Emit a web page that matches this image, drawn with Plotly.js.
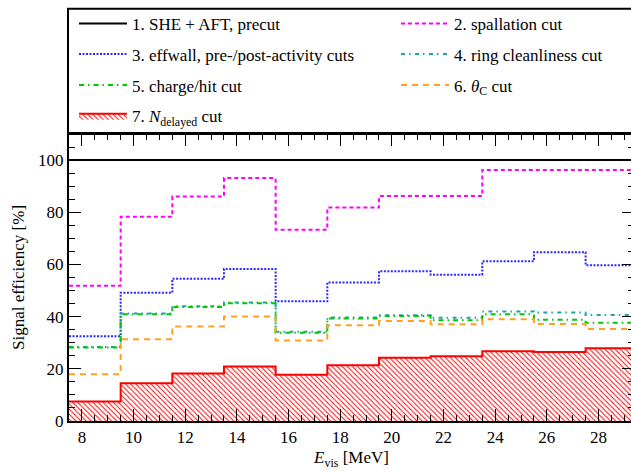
<!DOCTYPE html>
<html><head><meta charset="utf-8">
<script src="https://cdn.plot.ly/plotly-3.0.1.min.js"></script>
<style>
html,body{margin:0;padding:0;overflow:hidden;background:#fff}
#chart{width:640px;height:474px}
</style>
</head><body><div id="chart"></div><script>
// bin edges in E_vis [MeV]
const binEdges = [7.5, 9.5, 11.5, 13.5, 15.5, 17.5, 19.5, 21.5, 23.5, 25.5, 27.5, 29.5];
// signal efficiency [%] per bin, after each cumulative cut
const sheAft     = [100, 100, 100, 100, 100, 100, 100, 100, 100, 100, 100];
const spallation = [51.8, 78.3, 86.0, 93.1, 73.3, 81.8, 86.2, 86.2, 96.2, 96.2, 96.2];
const effwall    = [32.5, 49.2, 54.5, 58.3, 45.9, 53.1, 57.4, 56.1, 61.2, 64.7, 59.7];
const ringClean  = [28.4, 41.2, 44.0, 45.4, 34.2, 39.7, 40.5, 39.6, 42.0, 41.6, 40.6];
const chargeHit  = [28.2, 40.9, 43.7, 45.1, 33.8, 39.3, 40.2, 38.6, 40.9, 38.8, 37.7];
const thetaC     = [17.9, 31.3, 36.2, 40.1, 30.9, 36.7, 38.3, 37.1, 39.0, 37.2, 35.3];
const nDelayed   = [7.5, 14.5, 18.2, 20.9, 17.7, 21.4, 24.2, 24.8, 26.7, 26.4, 27.9];

const seriesNames = [
  '1. SHE + AFT, precut',
  '2. spallation cut',
  '3. effwall, pre-/post-activity cuts',
  '4. ring cleanliness cut',
  '5. charge/hit cut',
  '6. <i>θ</i><sub>C</sub> cut',
  '7. <i>N</i><sub>delayed</sub> cut'
];

const FONT = 'Liberation Serif, Times New Roman, serif';
const stepY = v => v.concat([v[v.length - 1]]);

function stepTrace(vals, name, color, dash, legendId) {
  return {
    type: 'scatter', mode: 'lines', x: binEdges, y: stepY(vals), name: name,
    line: {shape: 'hv', color: color, width: 2, dash: dash},
    legend: legendId, showlegend: true, hoverinfo: 'skip'
  };
}

const traces = [
  stepTrace(sheAft, seriesNames[0], '#000000', 'solid', 'legend'),
  stepTrace(spallation, seriesNames[1], '#ff00ff', '4px,3px', 'legend2'),
  stepTrace(effwall, seriesNames[2], '#2a2aff', '2px,1.5px', 'legend3'),
  stepTrace(ringClean, seriesNames[3], '#1aa3a3', '4px,4px,1.5px,4.5px', 'legend4'),
  stepTrace(chargeHit, seriesNames[4], '#00c800', '5px,4px,1.5px,4px', 'legend5'),
  stepTrace(thetaC, seriesNames[5], '#ffa020', '6px,5px', 'legend6'),
  Object.assign(stepTrace(nDelayed, seriesNames[6], '#ff0000', 'solid', 'legend7'), {
    fill: 'tozeroy', fillcolor: '#ffffff',
    fillpattern: {shape: '\\', fgcolor: '#ff0000', bgcolor: '#ffffff', size: 3.6, solidity: 0.28}
  })
];

const plotTop = 129, plotBottom = 421, plotLeft = 69, plotRight = 634;
const ph = plotBottom - plotTop, pw = plotRight - plotLeft;
const rowY = [17, 48, 79.5, 111].map(p => (plotBottom - p) / ph);
const colX = [74, 396].map(p => (p - plotLeft) / pw);

function leg(col, row) {
  return {x: colX[col], y: rowY[row], xanchor: 'left', yanchor: 'middle',
    bgcolor: 'rgba(0,0,0,0)', borderwidth: 0, itemwidth: 48,
    font: {family: FONT, size: 17, color: '#000'}};
}

const axisCommon = {
  showgrid: false, zeroline: false, showline: true, linewidth: 2, linecolor: '#000',
  mirror: 'allticks', ticks: 'inside', ticklen: 12, tickwidth: 1, tickcolor: '#000',
  tickfont: {family: FONT, size: 17, color: '#000'}
};

const layout = {
  width: 640, height: 474, showlegend: true,
  margin: {l: plotLeft, r: 640 - plotRight, t: plotTop, b: 474 - plotBottom, pad: 0},
  paper_bgcolor: '#fff', plot_bgcolor: '#fff',
  font: {family: FONT, size: 17, color: '#000'},
  xaxis: Object.assign({}, axisCommon, {
    range: [7.5, 7.5 + pw / 25.83], tick0: 0, dtick: 2,
    minor: {dtick: 0.5, tick0: 0, ticks: 'inside', ticklen: 6, tickwidth: 1, tickcolor: '#000'},
    title: {text: '<i>E</i><sub>vis</sub> [MeV]', font: {family: FONT, size: 17}, standoff: 5}
  }),
  yaxis: Object.assign({}, axisCommon, {
    range: [0, 110], tick0: 0, dtick: 20,
    minor: {dtick: 5, tick0: 0, ticks: 'inside', ticklen: 6, tickwidth: 1, tickcolor: '#000'},
    title: {text: 'Signal efficiency [%]', font: {family: FONT, size: 17}, standoff: 9}
  }),
  legend: leg(0, 0), legend2: leg(1, 0), legend3: leg(0, 1), legend4: leg(1, 1),
  legend5: leg(0, 2), legend6: leg(1, 2), legend7: leg(0, 3),
  shapes: [{
    type: 'rect', xref: 'paper', yref: 'paper', x0: -1 / pw, x1: 1.05,
    y0: 1, y1: (plotBottom - 1.5) / ph, line: {color: '#000', width: 2}, fillcolor: 'rgba(0,0,0,0)'
  }]
};

Plotly.newPlot('chart', traces, layout, {staticPlot: true, displayModeBar: false});
</script></body></html>
